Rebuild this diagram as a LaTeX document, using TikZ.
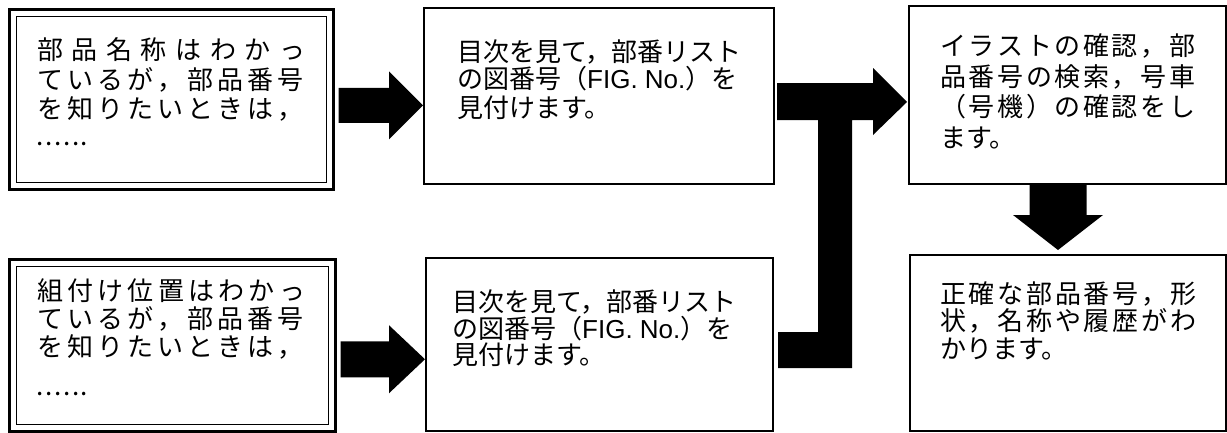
\documentclass[tikz,border=0pt]{standalone}
\usepackage{fontspec}
\setmainfont{Noto Sans CJK JP}
\newfontfamily\latinfont{Liberation Sans}
\usetikzlibrary{calc}
\makeatletter
\newcommand\spreadline[2]{\makebox[#1][l]{\sp@first#2\sp@nil}}
\def\sp@first#1{#1\sp@rest}
\def\sp@rest#1{\ifx#1\sp@nil\else\hfill#1\expandafter\sp@rest\fi}
\def\sp@nil{}
\makeatother
\begin{document}
\begin{tikzpicture}[x=1pt,y=-1pt,
  box/.style={draw, line width=2pt, inner sep=0pt, anchor=north west},
  innerbox/.style={draw, line width=1.5pt, inner sep=0pt, anchor=center},
  txt/.style={anchor=base west, inner sep=0pt, font=\fontsize{26pt}{30pt}\selectfont},
  blk/.style={fill=black}]
\fill[white] (0,0) rectangle (1227,432);
\useasboundingbox (0,0) rectangle (1227,432);

% boxes
\node[box, line width=2.5pt, minimum width=324pt, minimum height=180pt] (boxA) at (8,8) {};
\node[innerbox, minimum width=310pt, minimum height=166pt] (boxAin) at (boxA.center) {};
\node[box, line width=2.5pt, minimum width=326pt, minimum height=172pt] (boxB) at (8,258) {};
\node[innerbox, minimum width=312pt, minimum height=158pt] (boxBin) at (boxB.center) {};
\node[box, minimum width=350pt, minimum height=176pt] (boxC) at (423,7) {};
\node[box, minimum width=347pt, minimum height=173pt] (boxD) at (425,257) {};
\node[box, minimum width=317pt, minimum height=178pt] (boxE) at (908,5) {};
\node[box, minimum width=316pt, minimum height=176pt] (boxF) at (909,254) {};

% texts
\node[txt] (a1) at (37,59) {\spreadline{268pt}{部品名称はわかっ}};
\node[txt] (a2) at (37,89) {\spreadline{266pt}{ているが，部品番号}};
\node[txt] (a3) at (37,118) {\spreadline{266pt}{を知りたいときは，}};
\node[txt] (a4) at (36,145) {\makebox[52pt][l]{.\hfill.\hfill.\hfill.\hfill.\hfill.}};

\node[txt] (b1) at (37,300) {\spreadline{268pt}{組付け位置はわかっ}};
\node[txt] (b2) at (37,328) {\spreadline{266pt}{ているが，部品番号}};
\node[txt] (b3) at (37,356) {\spreadline{266pt}{を知りたいときは，}};
\node[txt] (b4) at (36,395.5) {\makebox[52pt][l]{.\hfill.\hfill.\hfill.\hfill.\hfill.}};

\node[txt] (c1) at (457,61) {目次を見て，部番リスト};
\node[txt] (c2) at (457,88) {の図番号（{\latinfont FIG. No.}）を};
\node[txt] (c3) at (457,117) {見付けます。};

\node[txt] (d1) at (452,311) {目次を見て，部番リスト};
\node[txt] (d2) at (452,338) {の図番号（{\latinfont FIG. No.}）を};
\node[txt] (d3) at (452,364) {見付けます。};

\node[txt] (e1) at (940,55) {\spreadline{255pt}{イラストの確認，部}};
\node[txt] (e2) at (940,86) {\spreadline{255pt}{品番号の検索，号車}};
\node[txt] (e3) at (940,116) {\spreadline{255pt}{（号機）の確認をし}};
\node[txt] (e4) at (940,147) {ます。};

\node[txt] (f1) at (940,303) {\spreadline{256pt}{正確な部品番号，形}};
\node[txt] (f2) at (940,330.5) {\spreadline{256pt}{状，名称や履歴がわ}};
\node[txt] (f3) at (940,358) {かります。};

% block arrows A->C and B->D
\coordinate (a1s) at ($(boxA.east)+(4,6)$);
\coordinate (a1e) at (boxC.west |- a1s);
\fill[blk] let \p1=(a1s), \p2=(a1e) in
  (\x1,{\y1+17.5pt}) -- ({\x2-34pt},{\y1+17.5pt}) -- ({\x2-34pt},{\y1+34pt}) --
  (\x2,\y1) -- ({\x2-34pt},{\y1-34pt}) -- ({\x2-34pt},{\y1-17.5pt}) -- (\x1,{\y1-17.5pt}) -- cycle;

\coordinate (a2s) at ($(boxB.east)+(4,14)$);
\coordinate (a2e) at (boxD.west |- a2s);
\fill[blk] let \p1=(a2s), \p2=(a2e) in
  (\x1,{\y1+18pt}) -- ({\x2-36pt},{\y1+18pt}) -- ({\x2-36pt},{\y1+34pt}) --
  (\x2,\y1) -- ({\x2-36pt},{\y1-34pt}) -- ({\x2-36pt},{\y1-18pt}) -- (\x1,{\y1-18pt}) -- cycle;

% T-shaped merge arrow C, D -> E
\coordinate (tC) at ($(boxC.east)+(4,6)$);
\coordinate (tD) at ($(boxD.east)+(6,0)$);
\coordinate (tE) at ($(boxE.west)+(-1,7)$);
\fill[blk] (777,83) -- (873,83) -- (873,68) -- (tE) -- (873,135) -- (873,120) --
  (852,120) -- (852,368) -- (778,368) -- (778,332) -- (818,332) -- (818,120) -- (777,120) -- cycle;

% down arrow E -> F
\coordinate (dE) at (1058,183);
\coordinate (dF) at (dE |- boxF.north);
\fill[blk] let \p1=(dE), \p2=(dF) in
  ({\x1-28.5pt},\y1) -- ({\x1-28.5pt},{\y2+39pt}) -- ({\x1-45pt},{\y2+39pt}) --
  ({\x1},{\y2+4pt}) -- ({\x1+45pt},{\y2+39pt}) -- ({\x1+28.5pt},{\y2+39pt}) -- ({\x1+28.5pt},\y1) -- cycle;
\end{tikzpicture}
\end{document}
